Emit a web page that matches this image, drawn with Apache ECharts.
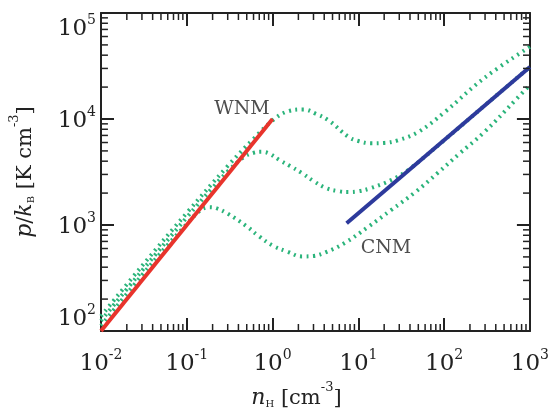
<!DOCTYPE html>
<html>
<head>
<meta charset="utf-8">
<script src="https://cdn.jsdelivr.net/npm/echarts@6/dist/echarts.min.js"></script>
<style>
  html, body { margin: 0; padding: 0; background: #fff; }
  #chart { width: 552px; height: 416px; }
</style>
</head>
<body>
<div id="chart"></div>
<script>
// 刻度（对数轴，每个量级一个主刻度）
const xTicks = [0.01, 0.1, 1, 10, 100, 1000]
const yTicks = [100, 1000, 10000, 100000]
const minorSteps = [2, 3, 4, 5, 6, 7, 8, 9]

// 热平衡曲线 [n_H, p/k_B]
const topCurve = [[0.01, 138], [0.03, 410], [0.1, 1300], [0.3, 3600], [0.6, 6500], [1.0, 9700], [1.5, 11800], [2.3, 12300], [3.2, 11200], [4.5, 9700], [7.7, 6760], [10, 6200], [14, 5900], [20, 5950], [29, 6300], [50, 7540], [100, 11500], [295, 24400], [1000, 48000]]
const midCurve = [[0.01, 125], [0.03, 370], [0.1, 1180], [0.2, 2250], [0.3, 3200], [0.45, 4300], [0.6, 4800], [0.75, 4900], [0.9, 4750], [1.2, 4100], [1.6, 3600], [2.2, 3090], [3, 2600], [4.2, 2230], [6, 2080], [7.7, 2050], [10, 2080], [14, 2230], [24, 2650], [38, 3300], [100, 6300], [300, 13500], [1000, 31000]]
const lowCurve = [[0.01, 112], [0.03, 335], [0.06, 650], [0.1, 1020], [0.14, 1350], [0.18, 1470], [0.22, 1440], [0.3, 1280], [0.5, 970], [0.7, 780], [1, 640], [1.5, 560], [2.2, 505], [3, 510], [4.2, 555], [7, 680], [13, 960], [24, 1380], [46, 2040], [84, 3090], [150, 4700], [295, 7540], [700, 15500], [1000, 21000]]

// WNM / CNM 两段
const wnmLine = [[0.01, 100], [1, 10000]]
const cnmLine = [[7.3, 1040], [1000, 31000]]

const phaseNames = ['WNM', 'CNM']
const phaseAt = [[0.44, 12400], [21, 610]]

const font = 'DejaVu Serif'
const ink = '#222'
const green = '#2bb47b'

const gridPos = { left: 100, right: 19, top: 13, bottom: 85 }
const plotW = 552 - gridPos.left - gridPos.right
const plotH = 416 - gridPos.top - gridPos.bottom
const minorLen = 7

function minorOf(ticks) {
  let out = []
  for (let i = 0; i < ticks.length - 1; i++) {
    minorSteps.forEach(s => out.push(ticks[i] * s))
  }
  return out
}

function powLabel(v) {
  const e = Math.round(Math.log10(v))
  return '{b|10}{s|' + e + '}'
}

const labelRich = {
  b: { fontFamily: font, fontSize: 23, lineHeight: 28, color: ink, verticalAlign: 'bottom' },
  s: { fontFamily: font, fontSize: 14, lineHeight: 14, color: ink, verticalAlign: 'top' }
}

const nameRich = {
  i: { fontFamily: font, fontSize: 22, fontStyle: 'italic', lineHeight: 28, color: ink, verticalAlign: 'bottom' },
  r: { fontFamily: font, fontSize: 21, lineHeight: 28, color: ink, verticalAlign: 'bottom' },
  sub: { fontFamily: font, fontSize: 10, lineHeight: 10, color: ink, verticalAlign: 'bottom' },
  sup: { fontFamily: font, fontSize: 13, lineHeight: 13, color: ink, verticalAlign: 'top' }
}

function axisBase(extra) {
  return Object.assign({
    type: 'log',
    logBase: 10,
    axisLine: { lineStyle: { color: ink, width: 2 } },
    axisTick: { inside: true, length: 13, lineStyle: { color: ink, width: 2 } },
    splitLine: { show: false },
    minorTick: { show: false }
  }, extra)
}

const yLo = yTicks[0], yHi = yTicks[yTicks.length - 1]
const xLo = xTicks[0], xHi = xTicks[xTicks.length - 1]

// 次刻度长度换算成对数轴上的倍数
const tx = Math.pow(10, minorLen * Math.log10(xHi / xLo) / plotW)
const ty = Math.pow(10, minorLen * Math.log10(yHi / yLo) / plotH)

let minorSegs = []
minorOf(xTicks).forEach(v => {
  minorSegs.push([[v, yLo], [v, yLo * ty]])
  minorSegs.push([[v, yHi], [v, yHi / ty]])
})
minorOf(yTicks).forEach(v => {
  minorSegs.push([[xLo, v], [xLo * tx, v]])
  minorSegs.push([[xHi, v], [xHi / tx, v]])
})

const tickSeries = minorSegs.map(seg => ({
  type: 'line',
  data: seg,
  showSymbol: false,
  silent: true,
  clip: false,
  z: 3,
  lineStyle: { color: ink, width: 1.5 }
}))

const myChart = echarts.init(document.getElementById('chart'))

const option = {
  animation: false,
  grid: gridPos,
  xAxis: [
    axisBase({
      position: 'bottom',
      min: xLo, max: xHi,
      splitNumber: xTicks.length - 1,
      name: '{i|n}{sub|H}{r| [cm}{sup|-3}{r|]}',
      nameLocation: 'middle',
      nameGap: 50,
      nameTextStyle: { rich: nameRich, padding: [0, 38, 0, 0] },
      axisLabel: { margin: 17, formatter: powLabel, rich: labelRich }
    }),
    axisBase({
      position: 'top',
      min: xLo, max: xHi,
      splitNumber: xTicks.length - 1,
      axisLabel: { show: false }
    })
  ],
  yAxis: [
    axisBase({
      position: 'left',
      min: yLo, max: yHi,
      splitNumber: yTicks.length - 1,
      name: '{i|p}{r|/}{i|k}{sub|B}{r| [K cm}{sup|-3}{r|]}',
      nameLocation: 'middle',
      nameGap: 65,
      nameTextStyle: { rich: nameRich },
      axisLabel: {
        margin: 5, formatter: powLabel, rich: labelRich,
        verticalAlignMaxLabel: 'top', verticalAlignMinLabel: 'bottom'
      }
    }),
    axisBase({
      position: 'right',
      min: yLo, max: yHi,
      splitNumber: yTicks.length - 1,
      axisLabel: { show: false }
    })
  ],
  series: [
    ...[topCurve, midCurve, lowCurve].map(c => ({
      type: 'line',
      data: c,
      smooth: 0.4,
      showSymbol: false,
      silent: true,
      lineStyle: { color: green, width: 4, type: [2, 4.5], cap: 'butt' }
    })),
    {
      type: 'line',
      data: wnmLine,
      showSymbol: false,
      silent: true,
      lineStyle: { color: '#e8342c', width: 4 }
    },
    {
      type: 'line',
      data: cnmLine,
      showSymbol: false,
      silent: true,
      lineStyle: { color: '#2d3a9c', width: 4 }
    },
    {
      type: 'scatter',
      symbolSize: 1,
      silent: true,
      itemStyle: { color: 'rgba(255,255,255,0)' },
      data: phaseAt.map((d, i) => ({ value: d, name: phaseNames[i] })),
      label: {
        show: true,
        position: 'inside',
        formatter: '{b}',
        fontFamily: font,
        fontSize: 19,
        color: ink
      }
    },
    ...tickSeries
  ]
}

myChart.setOption(option)
</script>
</body>
</html>
